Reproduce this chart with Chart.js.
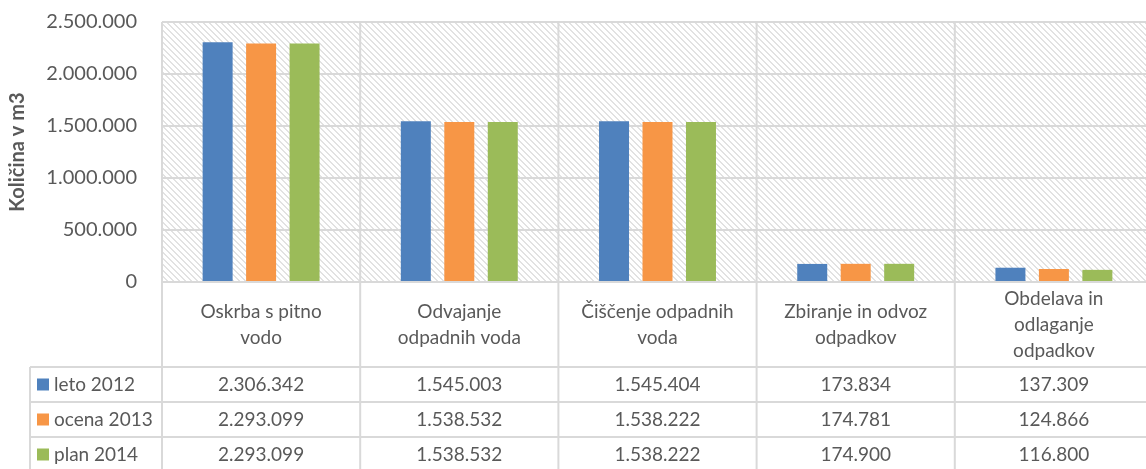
<!DOCTYPE html>
<html>
<head>
<meta charset="utf-8">
<script src="https://cdn.jsdelivr.net/npm/chart.js@4"></script>
<style>
  html, body { margin: 0; padding: 0; background: #fff; }
  #wrap { width: 1146px; height: 469px; overflow: hidden; }
  canvas { display: block; }
</style>
</head>
<body>
<div id="wrap"><canvas id="c" width="1160" height="480"></canvas></div>
<script>
// Količine po dejavnostih: stolpci + podatkovna tabela pod grafom
const categories = [
  ["Oskrba s pitno", "vodo"],
  ["Odvajanje", "odpadnih voda"],
  ["Čiščenje odpadnih", "voda"],
  ["Zbiranje in odvoz", "odpadkov"],
  ["Obdelava in", "odlaganje", "odpadkov"],
];
const leto2012 = [2306342, 1545003, 1545404, 173834, 137309];
const ocena2013 = [2293099, 1538532, 1538222, 174781, 124866];
const plan2014 = [2293099, 1538532, 1538222, 174900, 116800];
const seriesNames = ["leto 2012", "ocena 2013", "plan 2014"];
const seriesColors = ["#4f81bd", "#f79646", "#9bbb59"];
const yMax = 2500000, yStep = 500000;
const yTitle = "Količina v m3";

const FONT = "Lato, 'Open Sans', sans-serif";
const TXT = "#595959";
const LINE = "#d9d9d9";

// 1.234.567
const fmt = (v) => String(Math.round(v)).replace(/\B(?=(\d{3})+(?!\d))/g, ".");

// šrafura ozadja (diagonale navzdol)
function hatch() {
  const p = document.createElement("canvas");
  p.width = 6; p.height = 6;
  const g = p.getContext("2d");
  g.fillStyle = "#fff";
  g.fillRect(0, 0, 6, 6);
  g.fillStyle = "#e2e2e2";
  for (let i = 0; i < 6; i++) {
    g.fillRect(i, i, 1, 1);
    g.fillRect((i + 1) % 6, i, 1, 1);
  }
  return p;
}

const TABLE = { headerBottom: 367, rowH: 35, left: 30 };

const tablePlugin = {
  id: "tabela",
  beforeDraw(chart) {
    const { ctx, chartArea: a } = chart;
    ctx.save();
    ctx.fillStyle = ctx.createPattern(hatch(), "repeat");
    ctx.fillRect(a.left, a.top, a.right - a.left, a.bottom - a.top);
    ctx.restore();
  },
  afterDraw(chart) {
    const { ctx, chartArea: a } = chart;
    const n = categories.length;
    const cw = (a.right - a.left) / n;
    const yH = TABLE.headerBottom;
    const yEnd = yH + TABLE.rowH * seriesNames.length;
    const rows = [leto2012, ocena2013, plan2014];

    ctx.save();
    ctx.strokeStyle = LINE;
    ctx.lineWidth = 2;
    ctx.beginPath();
    for (let i = 0; i <= n; i++) {
      const x = a.left + i * cw;
      ctx.moveTo(x, a.top); ctx.lineTo(x, yEnd);
    }
    ctx.moveTo(a.left, a.bottom); ctx.lineTo(a.right, a.bottom);
    for (let r = 0; r <= seriesNames.length; r++) {
      const y = yH + r * TABLE.rowH;
      ctx.moveTo(TABLE.left, y); ctx.lineTo(a.right, y);
    }
    ctx.moveTo(TABLE.left, yH); ctx.lineTo(TABLE.left, yEnd);
    ctx.stroke();

    ctx.fillStyle = TXT;
    ctx.textAlign = "center";
    ctx.textBaseline = "middle";
    ctx.font = "19px " + FONT;
    const lh = 26;
    categories.forEach((lines, i) => {
      const cx = a.left + (i + 0.5) * cw;
      const cy = (a.bottom + yH) / 2 - (lines.length - 1) * lh / 2;
      lines.forEach((t, k) => ctx.fillText(t, cx, cy + k * lh));
    });

    rows.forEach((vals, r) => {
      const cy = yH + (r + 0.5) * TABLE.rowH;
      ctx.fillStyle = seriesColors[r];
      ctx.fillRect(TABLE.left + 7, cy - 6, 12, 12);
      ctx.fillStyle = TXT;
      ctx.textAlign = "left";
      ctx.fillText(seriesNames[r], TABLE.left + 24, cy);
      ctx.textAlign = "center";
      vals.forEach((v, i) => ctx.fillText(fmt(v), a.left + (i + 0.5) * cw, cy));
    });
    ctx.restore();
  },
};

new Chart(document.getElementById("c"), {
  type: "bar",
  data: {
    labels: categories,
    datasets: [leto2012, ocena2013, plan2014].map((d, i) => ({
      label: seriesNames[i],
      data: d,
      backgroundColor: seriesColors[i],
      borderWidth: 0,
      categoryPercentage: 0.658,
      barPercentage: 0.69,
    })),
  },
  options: {
    responsive: false,
    animation: false,
    layout: { padding: { left: 0, top: 22, right: 7, bottom: 198 } },
    plugins: { legend: { display: false }, tooltip: { enabled: false } },
    scales: {
      x: { display: false },
      y: {
        min: 0, max: yMax,
        afterFit: (s) => { s.width = 162; },
        border: { display: false },
        // nevidne oznake (tickLength) odmaknejo napise od osi
        grid: { color: LINE, lineWidth: 2, drawTicks: true, tickLength: 22, tickColor: "rgba(0,0,0,0)" },
        ticks: {
          stepSize: yStep, padding: 3, color: TXT,
          font: { family: FONT, size: 20 },
          callback: (v) => fmt(v),
        },
        title: {
          display: true, text: yTitle, color: TXT,
          font: { family: FONT, size: 20, weight: "bold" },
          padding: { top: 6, bottom: 0 },
        },
      },
    },
  },
  plugins: [tablePlugin],
});
</script>
</body>
</html>
